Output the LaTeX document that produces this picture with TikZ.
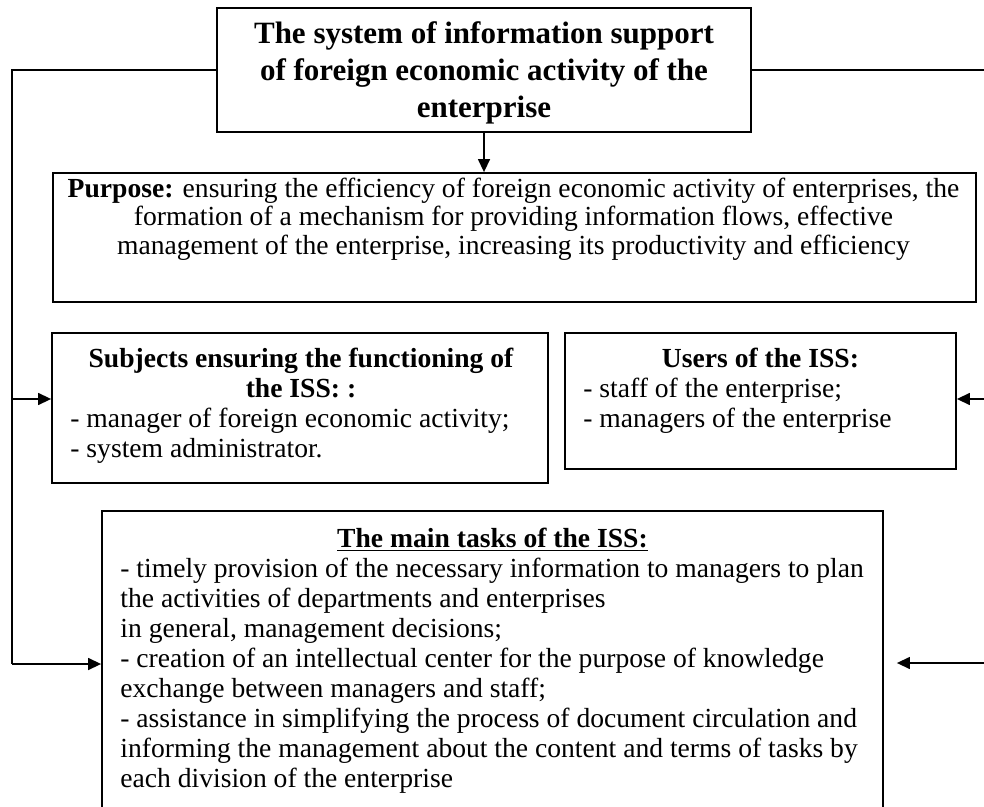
\documentclass[tikz,border=0pt]{standalone}
\usepackage{fontspec}
\setmainfont{Liberation Serif}
\usepackage{tikz}
\usetikzlibrary{arrows.meta}

\newcommand\titlesize{\fontsize{15.5pt}{18.5pt}\selectfont}
\newcommand\purposesize{\fontsize{13.8pt}{14.25pt}\selectfont}
\newcommand\bodysize{\fontsize{13.8pt}{15pt}\selectfont}

\begin{document}
\begin{tikzpicture}[x=0.5pt,y=-0.5pt,
  box/.style={draw, line width=0.9pt, inner sep=0pt},
  txt/.style={inner sep=0pt, font=\bodysize},
  link/.style={line width=0.7pt},
  tip/.style={link, -{Triangle[length=6.5pt,width=6pt]}}]
\useasboundingbox (0,0) rectangle (984,807);
\clip (0,0) rectangle (984,807);

% boxes
\node[box, minimum width=267pt, minimum height=62pt] (sys) at (484,70){};
\node[box, minimum width=461.5pt, minimum height=64.5pt] (purpose) at (514.5,237.5){};
\node[box, minimum width=248pt, minimum height=75pt] (subj) at (300,408){};
\node[box, minimum width=195.5pt, minimum height=68pt] (users) at (760.5,401){};
\node[box, minimum width=390.5pt, minimum height=164.5pt] (tasks) at (492.5,675.5){};

% texts
\node[txt, anchor=north, align=center, font=\titlesize\bfseries] (systxt) at (484,17)
  {\strut The system of information support\\of foreign economic activity of the\\enterprise};
\node[txt, anchor=north, align=center, font=\purposesize] (purposetxt) at (513.5,177)
  {\strut\textbf{Purpose:} ensuring the efficiency of foreign economic activity of enterprises, the\\
   formation of a mechanism for providing information flows, effective\\
   management of the enterprise, increasing its productivity and efficiency};
\node[txt, anchor=north, align=center, font=\bodysize\bfseries] (subjhead) at (301,346)
  {\strut Subjects ensuring the functioning of\\the ISS: :};
\node[txt, anchor=north west, align=left] (subjlist) at (70,406)
  {\strut- manager of foreign economic activity;\\- system administrator.};
\node[txt, anchor=north, align=center, font=\bodysize\bfseries] (usershead) at (760.5,346)
  {\strut Users of the ISS:};
\node[txt, anchor=north west, align=left] (userslist) at (583,376)
  {\strut- staff of the enterprise;\\- managers of the enterprise};
\node[txt, anchor=north, align=center, font=\bodysize\bfseries] (taskshead) at (492.5,526)
  {\strut\underline{The main tasks of the ISS:}};
\node[txt, anchor=north west, align=left] (taskslist) at (120,556)
  {\strut- timely provision of the necessary information to managers to plan\\
   the activities of departments and enterprises\\
   in general, management decisions;\\
   - creation of an intellectual center for the purpose of knowledge\\
   exchange between managers and staff;\\
   - assistance in simplifying the process of document circulation and\\
   informing the management about the content and terms of tasks by\\
   each division of the enterprise};

% connectors
\coordinate (l1) at (12,399);
\coordinate (l2) at (12,664);
\coordinate (r1) at (988,399);
\coordinate (r2) at (988,663);
\draw[link] (sys.west) -| (l2);
\draw[link] (sys.east) -| (r2);
\draw[tip] (sys.south) -- (sys.south |- purpose.north);
\draw[tip] (l1) -- (l1 -| subj.west);
\draw[tip] (l2) -- (l2 -| tasks.west);
\draw[tip] (r1) -- (r1 -| users.east);
\draw[tip] (r2) -- ([xshift=6.5pt]r2 -| tasks.east);
\end{tikzpicture}
\end{document}
